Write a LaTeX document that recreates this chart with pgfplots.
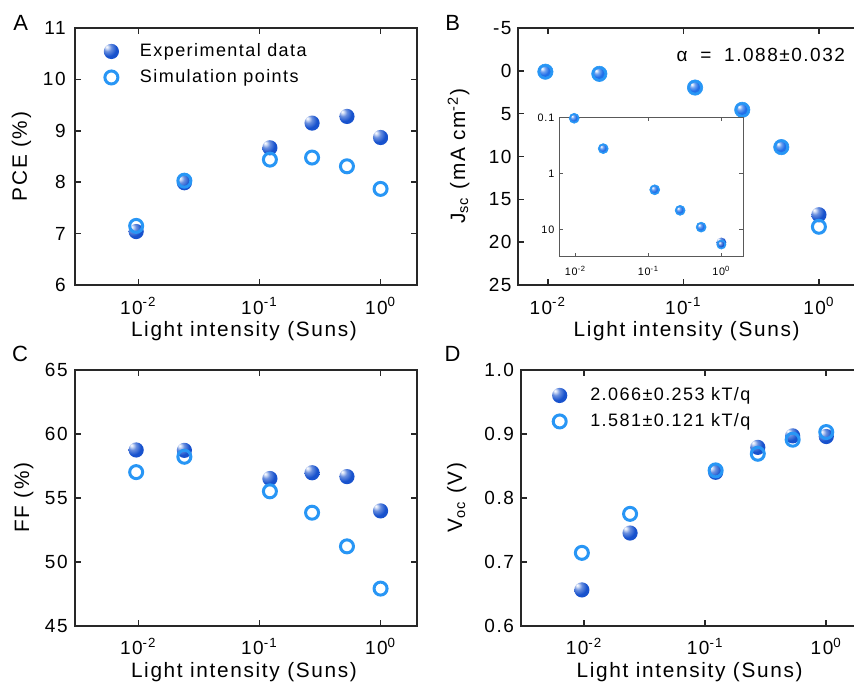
\documentclass[border=0pt]{standalone}
\usepackage{pgfplots}
\pgfplotsset{compat=1.18}
\usepackage{fontspec}
\setmainfont{Liberation Sans}[LetterSpace=8]
\definecolor{expblue}{RGB}{24,82,205}
\definecolor{simblue}{RGB}{40,150,245}
\definecolor{midblue}{RGB}{35,112,232}
\definecolor{axgray}{RGB}{40,40,40}
\newcommand\tickfont{\fontsize{9.5}{11}\selectfont}
\newcommand\labfont{\fontsize{10.4}{12}\selectfont}
\newcommand\legfont{\fontsize{9.0}{10}\selectfont}
\newcommand\insfont{\fontsize{5.4}{6}\selectfont}

\pgfdeclareradialshading{expshade}{\pgfpoint{-16bp}{16bp}}{color(0bp)=(white); color(4bp)=(white!85!expblue); color(13bp)=(expblue!65!white); color(26bp)=(expblue); color(55bp)=(expblue); color(74bp)=(expblue!70!black)}
\pgfdeclareradialshading{midshade}{\pgfpoint{-16bp}{16bp}}{color(0bp)=(white); color(4bp)=(white!85!midblue); color(13bp)=(midblue!65!white); color(26bp)=(midblue); color(55bp)=(midblue); color(74bp)=(midblue!70!black)}
\pgfdeclareplotmark{expball}{\pgfpathcircle{\pgfpointorigin}{\pgfplotmarksize}\pgfshadepath{expshade}{0}\pgfusepath{}}
\pgfdeclareplotmark{midball}{\pgfpathcircle{\pgfpointorigin}{\pgfplotmarksize}\pgfshadepath{midshade}{0}\pgfusepath{}}

\pgfplotsset{
 every axis/.append style={
  scale only axis,
  xminorticks=false, yminorticks=false,
  tick align=inside, major tick length=3pt,
  axis line style={line width=0.8pt, axgray},
  tick style={line width=0.8pt, axgray},
  xticklabel style={font=\tickfont, anchor=base, inner sep=0pt, yshift=-14.6pt},
  yticklabel style={font=\tickfont, anchor=east, inner sep=0pt, xshift=-3.5pt},
  clip=false,
  legend style={draw=none, fill=none, inner sep=0pt, row sep=4.6pt, font=\legfont,
     nodes={inner sep=0pt, text height=6.5pt, text depth=1.9pt}},
  legend cell align=left,
 },
 expm/.style={only marks, mark=expball, mark size=3.8pt},
 simm/.style={only marks, color=simblue, mark=o, mark size=3.25pt, mark options={draw=simblue, line width=1.5pt}},
 disk/.style={only marks, color=simblue, mark=*, mark size=#1, mark options={fill=simblue, draw=simblue, line width=0.3pt}},
}

\begin{document}
\begin{tikzpicture}
\useasboundingbox (0,0) rectangle (427pt,-341pt);

% ---------------- A ----------------
\begin{axis}[width=171pt, height=128.5pt, at={(37.5pt,-142.5pt)}, anchor=south west,
  xmode=log, xmin=0.003, xmax=2, xtick={0.01,0.1,1},
  xticklabels={10\textsuperscript{-2},10\textsuperscript{-1},10\textsuperscript{0}},
  ymin=6, ymax=11, ytick={6,7,8,9,10,11}, yticklabels={6,7,8,9,10,11},
  yticklabel style={xshift=-1pt},
  xlabel={Light intensity (Suns)},
  every axis x label/.style={at={(axis description cs:0.494,-0.201)}, anchor=base, font=\labfont},
  ylabel={PCE (\%)},
  every axis y label/.style={at={(axis description cs:-0.141,0.5)}, rotate=90, anchor=base, font=\labfont},
  legend style={at={(axis description cs:0.083,0.943)}, anchor=north west}]
\addplot[expm] coordinates {(0.0096,7.04) (0.024,7.99) (0.122,8.67) (0.272,9.15) (0.528,9.28) (1.0,8.87)};
\addlegendentry{\hspace{10.5pt}Experimental data}
\addplot[simm] coordinates {(0.0096,7.15) (0.024,8.03) (0.122,8.44) (0.272,8.48) (0.528,8.31) (1.0,7.87)};
\addlegendentry{\hspace{10.5pt}Simulation points}
\end{axis}

% ---------------- B ----------------
\begin{axis}[width=171pt, height=128.5pt, at={(258.85pt,-142.5pt)}, anchor=south west,
  xmode=log, xmin=0.006, xmax=2, xtick={0.01,0.1,1},
  xticklabels={10\textsuperscript{-2},10\textsuperscript{-1},10\textsuperscript{0}},
  y dir=reverse, ymin=-5, ymax=25, ytick={-5,0,5,10,15,20,25},
  yticklabels={-5,0,5,10,15,20,25},
  yticklabel style={xshift=0.6pt},
  xlabel={Light intensity (Suns)},
  every axis x label/.style={at={(axis description cs:0.494,-0.201)}, anchor=base, font=\labfont},
  ylabel={J\textsubscript{sc} (mA cm\textsuperscript{-2})},
  every axis y label/.style={at={(axis description cs:-0.154,0.5)}, rotate=90, anchor=base, font=\labfont}]
\addplot[disk=3.85pt]
  coordinates {(0.0096,0.1) (0.024,0.35) (0.122,1.95) (0.272,4.55) (0.528,8.9)};
\addplot[only marks, mark=midball, mark size=2.6pt]
  coordinates {(0.0096,0.1) (0.024,0.35) (0.122,1.95) (0.272,4.55) (0.528,8.9)};
\addplot[expm] coordinates {(1.0,16.8)};
\addplot[simm] coordinates {(1.0,18.2)};
\end{axis}
\node[font=\tickfont, anchor=base east] at (426pt,-30.5pt) {α\hspace{3pt} = \hspace{3pt}1.088±0.032};

% inset
\begin{axis}[width=92pt, height=69.7pt,
  at={(279.65pt,-128.35pt)}, anchor=south west,
  xmode=log, xmin=0.006, xmax=2, xtick={0.01,0.1,1},
  xticklabels={10\textsuperscript{-2},10\textsuperscript{-1},10\textsuperscript{0}},
  ymode=log, y dir=reverse, ymin=0.1, ymax=30, ytick={0.1,1,10}, yticklabels={0.1,1,10},
  major tick length=2pt, clip=true,
  axis line style={line width=0.6pt, black!65},
  tick style={line width=0.6pt, black!65},
  xticklabel style={font=\insfont, yshift=5.3pt},
  yticklabel style={font=\insfont, xshift=1.2pt},
  axis background/.style={fill=white}]
\addplot[disk=2.5pt]
  coordinates {(0.0096,0.104) (0.024,0.36) (0.122,1.94) (0.272,4.5) (0.528,8.95)};
\addplot[only marks, mark=midball, mark size=1.7pt]
  coordinates {(0.0096,0.104) (0.024,0.36) (0.122,1.94) (0.272,4.5) (0.528,8.95)};
\addplot[only marks, mark=expball, mark size=2.5pt] coordinates {(1.0,16.8)};
\addplot[disk=2.3pt] coordinates {(1.0,18.2)};
\addplot[only marks, mark=expball, mark size=1.5pt] coordinates {(1.0,18.2)};
\end{axis}

% ---------------- C ----------------
\begin{axis}[width=171pt, height=128pt, at={(37.5pt,-312.85pt)}, anchor=south west,
  xmode=log, xmin=0.003, xmax=2, xtick={0.01,0.1,1},
  xticklabels={10\textsuperscript{-2},10\textsuperscript{-1},10\textsuperscript{0}},
  ymin=45, ymax=65, ytick={45,50,55,60,65}, yticklabels={45,50,55,60,65},
  xlabel={Light intensity (Suns)},
  every axis x label/.style={at={(axis description cs:0.494,-0.201)}, anchor=base, font=\labfont},
  ylabel={FF (\%)},
  every axis y label/.style={at={(axis description cs:-0.134,0.5)}, rotate=90, anchor=base, font=\labfont}]
\addplot[expm] coordinates {(0.0096,58.73) (0.024,58.7) (0.122,56.5) (0.272,56.95) (0.528,56.65) (1.0,53.97)};
\addplot[simm] coordinates {(0.0096,57.0) (0.024,58.2) (0.122,55.5) (0.272,53.83) (0.528,51.2) (1.0,47.9)};
\end{axis}

% ---------------- D ----------------
\begin{axis}[width=171pt, height=127.85pt, at={(260.35pt,-312.85pt)}, anchor=south west,
  xmode=log, xmin=0.003, xmax=2, xtick={0.01,0.1,1},
  xticklabels={10\textsuperscript{-2},10\textsuperscript{-1},10\textsuperscript{0}},
  ymin=0.6, ymax=1.0, ytick={0.6,0.7,0.8,0.9,1.0}, yticklabels={0.6,0.7,0.8,0.9,1.0},
  yticklabel style={xshift=0.3pt},
  xlabel={Light intensity (Suns)},
  every axis x label/.style={at={(axis description cs:0.494,-0.201)}, anchor=base, font=\labfont},
  ylabel={V\textsubscript{oc} (V)},
  every axis y label/.style={at={(axis description cs:-0.171,0.5)}, rotate=90, anchor=base, font=\labfont},
  legend style={at={(axis description cs:0.0906,0.935)}, anchor=north west}]
\addplot[expm] coordinates {(0.0096,0.656) (0.024,0.745) (0.122,0.840) (0.272,0.879) (0.528,0.897) (1.0,0.896)};
\addlegendentry{\hspace{11.5pt}2.066±0.253 kT/q}
\addplot[simm] coordinates {(0.0096,0.714) (0.024,0.775) (0.122,0.843) (0.272,0.869) (0.528,0.891) (1.0,0.903)};
\addlegendentry{\hspace{11.5pt}1.581±0.121 kT/q}
\end{axis}

% panel letters
\node[font=\fontsize{11}{13}\selectfont] at (10.4pt,-11.4pt) {A};
\node[font=\fontsize{11}{13}\selectfont] at (226.4pt,-11.4pt) {B};
\node[font=\fontsize{11}{13}\selectfont] at (10pt,-176.85pt) {C};
\node[font=\fontsize{11}{13}\selectfont] at (226.25pt,-176.85pt) {D};
\end{tikzpicture}
\end{document}
